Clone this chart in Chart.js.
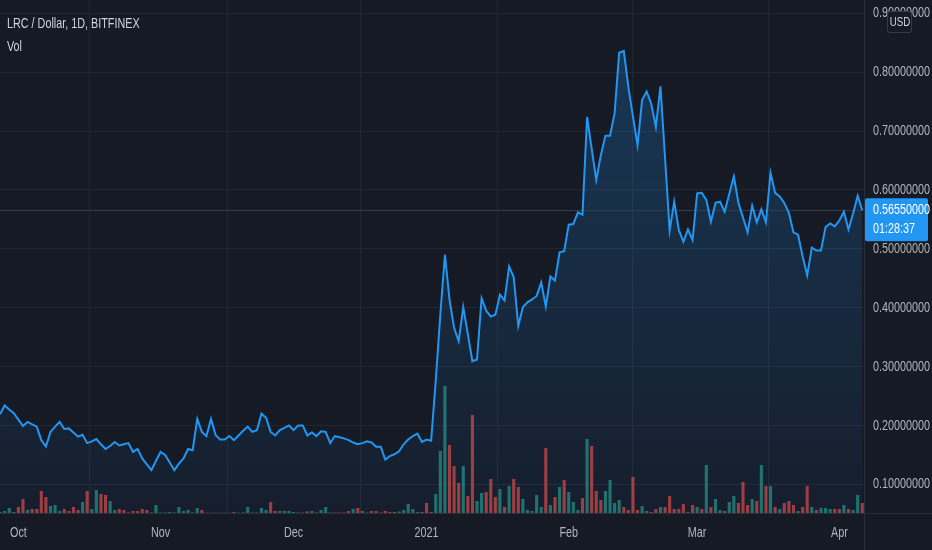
<!DOCTYPE html>
<html>
<head>
<meta charset="utf-8">
<title>LRC / Dollar, 1D, BITFINEX</title>
<script src="https://cdn.jsdelivr.net/npm/chart.js@4.4.1/dist/chart.umd.min.js"></script>
<style>
  html, body { margin: 0; padding: 0; background: #161a25; overflow: hidden; }
  #stage { position: relative; width: 932px; height: 550px; }
  #box { position: absolute; left: 0; top: 0; width: 932px; height: 550px; }
  /* the reference text is narrow, squeeze a normal sans to match */
  .legend { position: absolute; left: 7px; color: #d1d4dc; font: 15px "Liberation Sans", Arial, sans-serif; line-height: 15px;
            white-space: nowrap; transform: scaleX(0.72); transform-origin: 0 0; }
  #usd { position: absolute; left: 887px; top: 11px; width: 23px; height: 20px; border: 1px solid #363a45; border-radius: 3px;
         background: #161a25; overflow: hidden; }
  #usd span { position: absolute; left: 50%; top: 0; color: #d1d4dc; font: 13.5px "Liberation Sans", Arial, sans-serif; line-height: 20px;
              transform: translateX(-50%) scaleX(0.72); white-space: nowrap; }
</style>
</head>
<body>
<div id="stage">
  <div id="box"><canvas id="chart"></canvas></div>
  <div class="legend" style="top:15px">LRC / Dollar, 1D, BITFINEX</div>
  <div class="legend" style="top:38px">Vol</div>
  <div id="usd"><span>USD</span></div>
</div>
<script>
// Daily bars, index 0 = 1 Oct 2020 (a few empty days in Nov/Dec have no bar)
const firstBar = -4;

// close price, USD
const prices = [
  0.219, 0.234, 0.227, 0.221,
  0.210, 0.199, 0.206, 0.202, 0.198, 0.175, 0.164, 0.189, 0.198, 0.206,
  0.194, 0.195, 0.188, 0.181, 0.184, 0.170, 0.173, 0.177, 0.168, 0.160,
  0.165, 0.172, 0.166, 0.168, 0.170, 0.155, 0.160, 0.144, 0.134, 0.124,
  0.140, 0.155, 0.150, 0.137, 0.124, 0.135, 0.144, 0.160, 0.158, 0.211,
  0.189, 0.182, 0.211, 0.184, 0.176, 0.176, 0.182, 0.175, 0.183, 0.191,
  0.198, 0.189, 0.192, 0.220, 0.213, 0.189, 0.183, 0.192, 0.196, 0.200,
  0.192, 0.200, 0.200, 0.183, 0.188, 0.182, 0.190, 0.189, 0.170, 0.182,
  0.180, 0.178, 0.175, 0.171, 0.168, 0.170, 0.173, 0.171, 0.164, 0.164,
  0.142, 0.148, 0.151, 0.156, 0.168, 0.176, 0.182, 0.186, 0.172, 0.176,
  0.174, 0.276, 0.388, 0.490, 0.414, 0.366, 0.343, 0.401, 0.355, 0.309,
  0.312, 0.416, 0.395, 0.385, 0.388, 0.422, 0.412, 0.470, 0.452, 0.369,
  0.401, 0.409, 0.414, 0.420, 0.443, 0.402, 0.453, 0.446, 0.494, 0.496,
  0.541, 0.542, 0.562, 0.558, 0.724, 0.670, 0.617, 0.659, 0.692, 0.692,
  0.730, 0.833, 0.836, 0.775, 0.725, 0.676, 0.753, 0.767, 0.746, 0.707,
  0.776, 0.654, 0.531, 0.580, 0.532, 0.512, 0.533, 0.515, 0.594, 0.595,
  0.583, 0.546, 0.578, 0.580, 0.563, 0.593, 0.623, 0.578, 0.553, 0.528,
  0.573, 0.545, 0.567, 0.545, 0.629, 0.595, 0.589, 0.578, 0.561, 0.528,
  0.524, 0.487, 0.455, 0.502, 0.497, 0.497, 0.537, 0.543, 0.538, 0.548,
  0.563, 0.533, 0.560, 0.590, 0.5655
];

// volume (relative units)
const volumes = [
  1, 2, 5, 1,
  6, 14, 3, 4, 4, 22, 16, 7, 8, 2,
  4, 2, 6, 3, 11, 22, 4, 23, 19, 18,
  12, 3, 4, 3, 0.5, 2, 2, 4, 3, 0.5,
  8, 0.5, 0.5, 1, 0.5, 6, 2, 3, 0.5, 5,
  3, 0.3, 0.3, 0.3, 0.3, 0.3, 0.3, 1, 0.3, 0.5,
  6, 0.5, 0.5, 5, 3, 11, 2, 2, 2, 2,
  1, 0.5, 0.5, 1.5, 2, 0.5, 3, 6, 0.5, 0.5,
  0.5, 0.5, 2, 4, 5, 2, 0.5, 2, 2, 0.5,
  2, 1, 1, 1.5, 3, 9, 4, 1, 1, 10,
  1, 19, 62, 127, 68, 47, 30, 47, 17, 98,
  12, 20, 21, 34, 16, 24, 6, 27, 34, 26,
  14, 3, 2, 18, 6, 65, 8, 16, 26, 33,
  21, 11, 3, 15, 74, 67, 22, 13, 22, 33,
  10, 13, 6, 3, 36, 3, 7, 2, 1, 4,
  6, 6, 17, 4, 4, 9, 1, 8, 6, 4,
  48, 6, 14, 3, 2, 11, 17, 10, 31, 8,
  14, 12, 48, 27, 27, 6, 4, 10, 12, 8,
  2, 6, 27, 6, 3, 5, 5, 4, 4, 4,
  8, 4, 3, 18, 10
];

// 1 = up day, 0 = down day
const volUp = [
  1, 1, 1, 1,
  0, 0, 1, 0, 0, 0, 0, 1, 1, 1,
  0, 0, 0, 0, 1, 0, 1, 1, 0, 0,
  1, 1, 0, 0, 0, 0, 0, 0, 0, 0,
  1, 1, 1, 1, 1, 1, 1, 1, 1, 1,
  0, 0, 1, 0, 0, 1, 0, 0, 1, 1,
  1, 0, 1, 1, 1, 0, 0, 1, 1, 1,
  1, 1, 0, 0, 1, 0, 1, 1, 0, 1,
  0, 0, 0, 1, 0, 0, 1, 0, 0, 0,
  0, 0, 0, 1, 1, 1, 1, 1, 0, 0,
  0, 1, 1, 1, 0, 0, 0, 1, 0, 0,
  1, 1, 0, 0, 0, 1, 0, 1, 0, 0,
  1, 1, 1, 1, 1, 0, 1, 0, 1, 0,
  1, 1, 1, 0, 1, 0, 0, 0, 1, 1,
  1, 1, 0, 0, 0, 0, 1, 1, 0, 0,
  1, 0, 0, 0, 0, 0, 1, 0, 1, 0,
  1, 0, 1, 1, 0, 1, 1, 0, 0, 0,
  1, 0, 1, 0, 1, 0, 1, 0, 0, 0,
  1, 0, 0, 1, 0, 1, 1, 1, 0, 0,
  1, 0, 1, 1, 0
];

// time axis: bar index where each month starts
const monthStarts = [0, 31, 60, 89, 120, 148, 179];
const monthLabels = ["Oct", "Nov", "Dec", "2021", "Feb", "Mar", "Apr"];

// price axis
const priceTicks = [0.1, 0.2, 0.3, 0.4, 0.5, 0.6, 0.7, 0.8, 0.9];
const lastPrice = prices[prices.length - 1];
const countdown = "01:28:37";

const FONT = '15px "Liberation Sans", Arial, sans-serif';
const SQUEEZE = 0.72;
const gridColor = "#232732";
const sepColor = "#2a2e39";
const textColor = "#b2b5be";
const blue = "#2196f3";

const pricePoints = prices.map((p, k) => ({ x: firstBar + k, y: p }));
const volPoints = volumes.map((v, k) => ({ x: firstBar + k, y: v }));
const volColors = volUp.map((u) => (u ? "rgba(38,166,154,0.62)" : "rgba(239,83,80,0.62)"));

function narrowText(ctx, text, x, y, align) {
  ctx.save();
  ctx.translate(x, y);
  ctx.scale(SQUEEZE, 1);
  ctx.textAlign = align;
  ctx.textBaseline = "middle";
  ctx.fillText(text, 0, 0);
  ctx.restore();
}

// separators, axis labels, last price line and the price tag
const frame = {
  id: "frame",
  beforeDatasetsDraw(chart) {
    const { ctx, chartArea, scales } = chart;
    const y = Math.round(scales.y.getPixelForValue(lastPrice)) + 0.5;
    ctx.save();
    ctx.strokeStyle = "#363b48";
    ctx.lineWidth = 1;
    ctx.beginPath();
    ctx.moveTo(chartArea.left, y);
    ctx.lineTo(chartArea.right, y);
    ctx.stroke();
    ctx.restore();
  },
  afterDraw(chart) {
    const { ctx, chartArea, scales, width, height } = chart;
    ctx.save();
    ctx.strokeStyle = sepColor;
    ctx.lineWidth = 1;
    ctx.beginPath();
    ctx.moveTo(Math.round(chartArea.right) + 0.5, 0);
    ctx.lineTo(Math.round(chartArea.right) + 0.5, height);
    ctx.moveTo(0, Math.round(chartArea.bottom) + 0.5);
    ctx.lineTo(width, Math.round(chartArea.bottom) + 0.5);
    ctx.stroke();

    ctx.font = FONT;
    ctx.fillStyle = textColor;
    priceTicks.forEach((v) => {
      narrowText(ctx, v.toFixed(8), chartArea.right + 9, scales.y.getPixelForValue(v), "left");
    });
    monthStarts.forEach((v, k) => {
      narrowText(ctx, monthLabels[k], scales.x.getPixelForValue(v), chartArea.bottom + 19.5, "center");
    });

    const y = scales.y.getPixelForValue(lastPrice);
    const x0 = chartArea.right + 1;
    ctx.fillStyle = blue;
    ctx.beginPath();
    ctx.roundRect(x0, y - 12, width - 4 - x0, 43, 2);
    ctx.fill();
    ctx.fillStyle = "#ffffff";
    narrowText(ctx, lastPrice.toFixed(8), chartArea.right + 9, y, "left");
    narrowText(ctx, countdown, chartArea.right + 9, y + 19, "left");
    ctx.restore();
  }
};

new Chart(document.getElementById("chart"), {
  data: {
    datasets: [
      {
        type: "line",
        label: "area",
        data: pricePoints,
        yAxisID: "y",
        borderWidth: 0,
        borderColor: "rgba(0,0,0,0)",
        pointRadius: 0,
        fill: "start",
        backgroundColor: (c) => {
          const area = c.chart.chartArea;
          if (!area) return "rgba(33,150,243,0.15)";
          const g = c.chart.ctx.createLinearGradient(0, area.top, 0, area.bottom);
          g.addColorStop(0, "rgba(33,150,243,0.26)");
          g.addColorStop(1, "rgba(33,150,243,0.04)");
          return g;
        },
        order: 3
      },
      {
        type: "bar",
        label: "Vol",
        data: volPoints,
        yAxisID: "y2",
        backgroundColor: volColors,
        barPercentage: 0.68,
        categoryPercentage: 1,
        order: 2
      },
      {
        type: "line",
        label: "LRC / Dollar",
        data: pricePoints,
        yAxisID: "y",
        borderColor: blue,
        borderWidth: 2,
        pointRadius: 0,
        fill: false,
        order: 1
      }
    ]
  },
  options: {
    responsive: true,
    maintainAspectRatio: false,
    animation: false,
    layout: { padding: 0 },
    plugins: {
      legend: { display: false },
      tooltip: { enabled: false },
      filler: { drawTime: "beforeDatasetsDraw" }
    },
    scales: {
      x: {
        type: "linear",
        min: -4.01,
        max: 184.38,
        offset: false,
        grid: { color: gridColor, drawTicks: false },
        border: { display: false },
        afterBuildTicks: (s) => { s.ticks = monthStarts.map((v) => ({ value: v })); },
        afterFit: (s) => { s.height = 37; s.paddingLeft = 0; s.paddingRight = 0; },
        ticks: { display: false }
      },
      y: {
        position: "right",
        min: 0.0513,
        max: 0.9226,
        grid: { color: gridColor, drawTicks: false },
        border: { display: false },
        afterBuildTicks: (s) => { s.ticks = priceTicks.map((v) => ({ value: v })); },
        afterFit: (s) => { s.width = 68; s.paddingTop = 0; s.paddingBottom = 0; },
        ticks: { display: false }
      },
      y2: {
        display: false,
        min: 0,
        max: Math.max(...volumes) * 4.04
      }
    }
  },
  plugins: [frame]
});
</script>
</body>
</html>
